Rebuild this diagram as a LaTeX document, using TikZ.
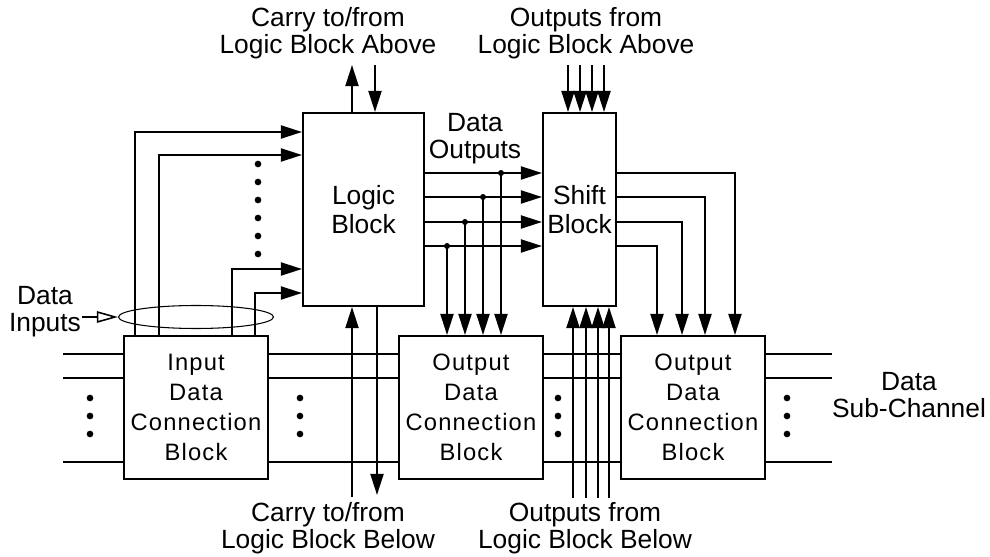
\documentclass[tikz,border=0pt]{standalone}
\usepackage{fontspec}
\setmainfont{Liberation Sans}
\newfontfamily\trackedfont[LetterSpace=5]{Liberation Sans}
\usepackage{tikz}
\usetikzlibrary{arrows.meta,shapes.geometric}

\begin{document}
\begin{tikzpicture}[
    x=0.02cm, y=-0.02cm,
    line width=1.15pt,
    block/.style={
        rectangle,
        draw,
        minimum height=3.86cm,
        inner sep=1pt,
        align=center,
        font=\fontsize{15}{16.5}\selectfont
    },
    connbox/.style={
        rectangle,
        draw,
        minimum width=2.88cm,
        minimum height=2.86cm,
        inner sep=1pt,
        align=center,
        font=\trackedfont\fontsize{13.5}{17}\selectfont
    },
    notetext/.style={align=center, inner sep=0pt, font=\fontsize{15}{15.5}\selectfont},
    bus/.style={draw, ellipse, line width=0.6pt, inner sep=0pt},
    arrow/.style={-{Triangle[length=12pt,width=7.4pt]}},
    openarrow/.style={-{Triangle[open,length=12pt,width=6.5pt]}, line width=0.9pt}
]
    \useasboundingbox (0,0) rectangle (990,557);

    \node[block, minimum width=2.42cm] (logic) at (363.5,209.5) {Logic\\Block};
    \node[block, minimum width=1.46cm] (shift) at (579.5,209.5) {Shift\\Block};
    \node[connbox] (inconn) at (196,407.5) {Input\\Data\\Connection\\Block};
    \node[connbox] (outconnA) at (471,407.5) {Output\\Data\\Connection\\Block};
    \node[connbox] (outconnB) at (693,407.5) {Output\\Data\\Connection\\Block};

    \node[notetext] (carryup) at (328,33) {Carry to/from\\Logic Block Above};
    \node[notetext] (outsup) at (586,33) {Outputs from\\Logic Block Above};
    \node[notetext] (carrydown) at (328,528) {Carry to/from\\Logic Block Below};
    \node[notetext] (outsdown) at (585,528) {Outputs from\\Logic Block Below};
    \node[notetext] (dataout) at (475,139) {Data\\Outputs};
    \node[notetext] (subchan) at (909,395) {Data\\Sub-Channel};
    \node[notetext] (datain) at (45,312) {Data\\Inputs};
    \node[bus, minimum width=3.1cm, minimum height=0.46cm] (inbus) at (196,317) {};

    % inputs into the logic block
    \draw[openarrow] (datain.east |- inbus) -- (inbus.west);
    \foreach \x/\y [count=\i] in {135/132, 159/155, 232/269, 255/293} {
        \coordinate (din\i) at (\x,\y);
        \draw[arrow] (inconn.north -| din\i) |- (logic.west |- din\i);
    }
    \foreach \y in {164,182,...,254}
        \fill (258,\y) circle (1.9pt);

    % carry chain
    \coordinate (cupout) at (352,65);
    \coordinate (cupin) at (375,65);
    \coordinate (cdownin) at (352,497);
    \coordinate (cdownout) at (377,495);
    \draw[arrow] (logic.north -| cupout) -- (cupout);
    \draw[arrow] (cupin) -- (logic.north -| cupin);
    \draw[arrow] (cdownin) -- (logic.south -| cdownin);
    \draw[arrow] (logic.south -| cdownout) -- (cdownout);

    % outputs of the neighbouring logic blocks
    \foreach \xa/\xb [count=\i] in {568/573, 580/586, 592/598, 604/609} {
        \coordinate (oabove\i) at (\xa,65);
        \coordinate (obelow\i) at (\xb,498);
        \draw[arrow] (oabove\i) -- (shift.north -| oabove\i);
        \draw[arrow] (obelow\i) -- (shift.south -| obelow\i);
    }

    % data outputs
    \foreach \y/\jx/\sx [count=\i] in {173/501/735, 197/483/705, 222/465/682, 246/447/657} {
        \coordinate (dout\i) at (\jx,\y);
        \coordinate (sout\i) at (\sx,\y);
        \draw[arrow] (logic.east |- dout\i) -- (shift.west |- dout\i);
        \fill (dout\i) circle (1.7pt);
        \draw[arrow] (dout\i) -- (outconnA.north -| dout\i);
        \draw[arrow] (shift.east |- sout\i) -| (outconnB.north -| sout\i);
    }

    % data sub-channel
    \foreach \y [count=\i] in {354,378,462} {
        \coordinate (chl\i) at (63,\y);
        \coordinate (chr\i) at (832,\y);
        \draw (chl\i) -- (inconn.west |- chl\i);
        \draw (inconn.east |- chl\i) -- (outconnA.west |- chl\i);
        \draw (outconnA.east |- chl\i) -- (outconnB.west |- chl\i);
        \draw (outconnB.east |- chl\i) -- (chr\i);
    }
    \foreach \x in {90,300,558,787}
        \foreach \y in {398,416,434}
            \fill (\x,\y) circle (1.9pt);
\end{tikzpicture}
\end{document}
